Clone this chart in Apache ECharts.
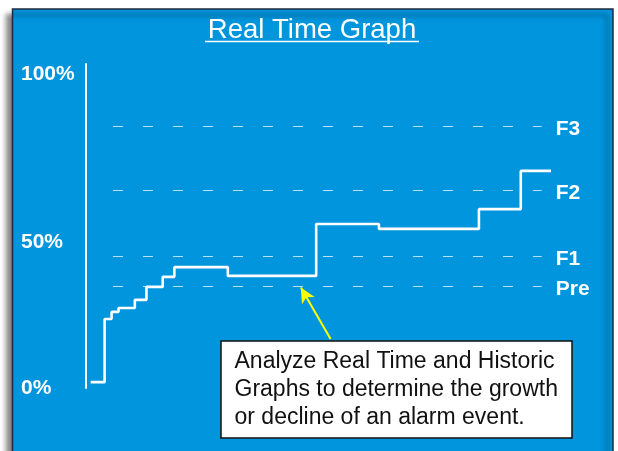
<!DOCTYPE html>
<html>
<head>
<meta charset="utf-8">
<script src="https://cdn.jsdelivr.net/npm/echarts@6/dist/echarts.min.js"></script>
<style>
  html, body { margin: 0; padding: 0; background: #fff; }
  #chart { width: 618px; height: 451px; }
</style>
</head>
<body>
<div id="chart"></div>
<script>
// time (x, 0-100) and level (%) of the real time trace
var times = [1, 4, 5.5, 7, 10.5, 13, 16.5, 19, 30.5, 49.5, 63, 84.5, 93.5, 100]
var levels = [1.8, 21.3, 23.5, 24.7, 27.2, 31.2, 34.3, 37.3, 34.6, 50.6, 49.1, 55.2, 67, 67]

// alarm thresholds
var alarmNames = ['F3', 'F2', 'F1', 'Pre']
var alarmLevels = [80.9, 61, 40.7, 31.5]
var alarmStart = 5.8
var alarmEnd = 98

// y axis ticks
var yTickValues = [0, 45, 97]
var yTickLabels = ['0%', '50%', '100%']

// annotation
var noteLines = [
    'Analyze Real Time and Historic',
    'Graphs to determine the growth',
    'or decline of an alarm event.'
]
var arrowFrom = [52.6, 15.1]
var arrowTo = [46.2, 31.0]

var FONT = '"Liberation Sans", Arial, Helvetica, sans-serif'

window.onload = function () {
    var chart = echarts.init(document.getElementById('chart'))

    var traceData = times.map(function (t, i) { return [t, levels[i]] })

    var alarmLines = alarmNames.map(function (name, i) {
        return [
            { name: name, coord: [alarmStart, alarmLevels[i]] },
            { coord: [alarmEnd, alarmLevels[i]] }
        ]
    })

    chart.setOption({
        backgroundColor: '#ffffff',
        animation: false,
        grid: { left: 86, top: 64, right: 67, bottom: 63 },
        xAxis: {
            type: 'value', min: 0, max: 100, show: false
        },
        yAxis: {
            type: 'value', min: 0, max: 100,
            axisLine: { show: true, lineStyle: { color: '#ffffff', width: 2 } },
            axisTick: { show: false },
            splitLine: { show: false },
            axisLabel: {
                customValues: yTickValues,
                formatter: function (v) {
                    var i = yTickValues.indexOf(v)
                    return i >= 0 ? yTickLabels[i] : ''
                },
                align: 'left',
                margin: 65,
                color: '#ffffff',
                fontFamily: FONT,
                fontWeight: 'bold',
                fontSize: 21
            }
        },
        graphic: [
            {
                // blue panel
                type: 'rect', z: -10,
                shape: { x: 12.5, y: 9, width: 600.5, height: 470 },
                style: {
                    fill: '#0095dd', stroke: '#1d2d3f', lineWidth: 1.5,
                    shadowBlur: 5, shadowOffsetX: -6, shadowOffsetY: 6,
                    shadowColor: 'rgba(0,0,0,0.5)'
                }
            },
            {
                type: 'text', z: 10, x: 312, y: 30,
                style: {
                    text: 'Real Time Graph', fill: '#ffffff',
                    font: '27.5px ' + FONT,
                    align: 'center', verticalAlign: 'middle'
                }
            },
            {
                type: 'line', z: 10,
                shape: { x1: 205, y1: 41.5, x2: 419, y2: 41.5 },
                style: { stroke: '#ffffff', lineWidth: 1.5 }
            },
            {
                type: 'group', z: 100, x: 221, y: 341,
                children: [
                    {
                        type: 'rect',
                        shape: { x: 0, y: 0, width: 351, height: 97 },
                        style: { fill: '#ffffff', stroke: '#111111', lineWidth: 1.5 }
                    },
                    {
                        type: 'text', x: 13.5, y: 48.5,
                        style: {
                            text: noteLines.join('\n'), fill: '#111111',
                            font: '23px ' + FONT, lineHeight: 28,
                            align: 'left', verticalAlign: 'middle'
                        }
                    }
                ]
            }
        ],
        series: [
            {
                type: 'line',
                step: 'end',
                data: traceData,
                symbol: 'none',
                lineStyle: { color: '#ffffff', width: 2.6 },
                z: 5,
                markLine: {
                    silent: true,
                    symbol: ['none', 'none'],
                    lineStyle: { color: 'rgba(215,238,255,0.85)', width: 1.2, type: [10, 20] },
                    label: {
                        position: 'end', distance: 14, offset: [0, 3],
                        formatter: '{b}', color: '#ffffff',
                        fontFamily: FONT, fontWeight: 'bold', fontSize: 21
                    },
                    data: alarmLines
                }
            },
            {
                type: 'line',
                data: [],
                markLine: {
                    silent: true,
                    symbol: ['none', 'arrow'],
                    symbolSize: [11, 15],
                    lineStyle: { color: '#ffff00', width: 2, type: 'solid' },
                    label: { show: false },
                    data: [[{ coord: arrowFrom }, { coord: arrowTo }]]
                }
            }
        ]
    })
}
</script>
</body>
</html>
